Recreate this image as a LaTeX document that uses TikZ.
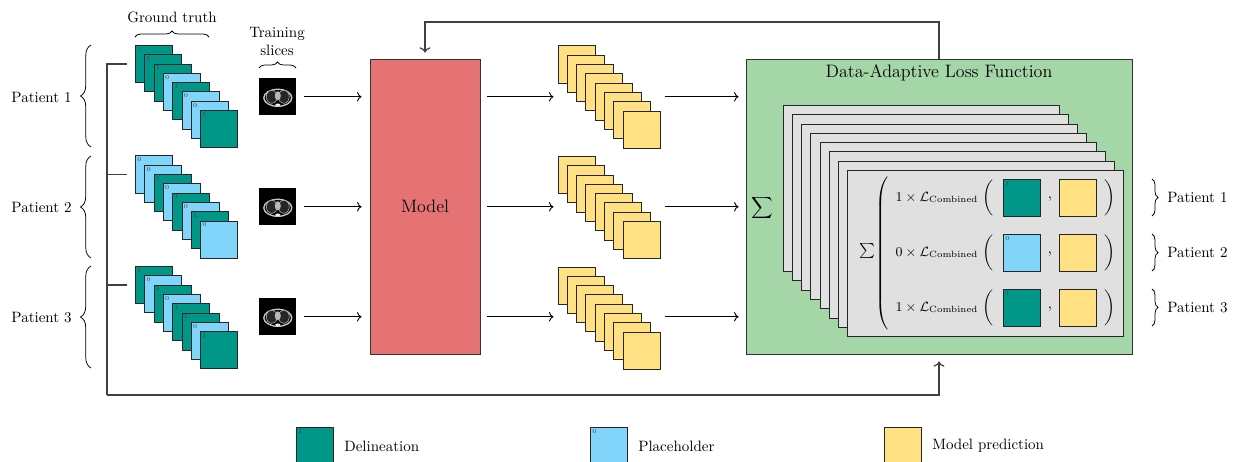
\documentclass[tikz,border=0pt]{standalone}
\usetikzlibrary{decorations.pathreplacing,arrows.meta,calc}
\definecolor{teal1}{HTML}{009688}
\definecolor{blue1}{HTML}{81D4FA}
\definecolor{yel1}{HTML}{FFE082}
\definecolor{red1}{HTML}{E57373}
\definecolor{green1}{HTML}{A5D6A7}
\definecolor{gray1}{HTML}{E0E0E0}
\begin{document}
\begin{tikzpicture}[x=0.66667pt,y=-0.66667pt,
  sq/.style={draw=black!85,line width=0.6pt,inner sep=0pt,minimum size=24.67pt,anchor=north west},
  lab/.style={font=\fontsize{4}{4}\selectfont,anchor=north west,inner sep=1.3pt,text=black!75},
  s1/.style={sq,fill=teal1,label={[lab]north west:1}},
  s0/.style={sq,fill=blue1,label={[lab]north west:0}},
  sp/.style={sq,fill=yel1},
  sheet/.style={draw=black!85,line width=0.6pt,fill=gray1,inner sep=0pt,minimum width=184pt,minimum height=110.67pt,anchor=north west},
  ctbox/.style={fill=black,inner sep=0pt,minimum size=24.67pt,anchor=north west},
  arr/.style={line width=0.6pt,-{To[length=3pt]}},
  fb/.style={line width=0.8pt,draw=black!75},
  brc/.style={decorate,decoration={brace,amplitude=#1},line width=0.5pt},
  brc/.default=5pt
]
\useasboundingbox (0,0) rectangle (1234,462);
\clip (0,0) rectangle (1234,462);

% ground truth stacks
\foreach \v [count=\i from 0] in {1,1,1,0,1,0,0,1}
  \node[s\v] (g1-\i) at ({135+9.3*\i},{45+9.3*\i}) {};
\foreach \v [count=\i from 0] in {0,0,1,0,1,0,1,0}
  \node[s\v] (g2-\i) at ({135+9.3*\i},{155.5+9.3*\i}) {};
\foreach \v [count=\i from 0] in {1,0,1,0,1,1,0,1}
  \node[s\v] (g3-\i) at ({135+9.3*\i},{266+9.3*\i}) {};

% patient braces and labels (left)
\draw[brc=7pt] (91,147) -- (91,45);
\draw[brc=7pt] (91,258) -- (91,156);
\draw[brc=7pt] (91,368) -- (91,266);
\node[anchor=east] (pl1) at (77,97) {Patient 1};
\node[anchor=east] (pl2) at (77,207) {Patient 2};
\node[anchor=east] (pl3) at (77,318) {Patient 3};

% top labels
\draw[brc=4pt] (135,37) -- (209,37);
\node (gt) at (172,17) {Ground truth};
\draw[brc=4pt] (259,68) -- (296,68);
\node[align=center] (ts) at (277,42) {Training\\slices};

% CT slices
\foreach \p/\yy in {1/78,2/188,3/298} {
  \node[ctbox] (ct\p) at (259,\yy) {};
  \begin{scope}[shift={(ct\p.center)}]
    \draw[gray!45,line width=0.9pt] (0,1) ellipse [x radius=14, y radius=8.5];
    \fill[black!85] (-6,0) ellipse [x radius=5.5, y radius=6.5];
    \fill[black!85] (6,0) ellipse [x radius=5.5, y radius=6.5];
    \draw[gray!50,line width=0.35pt] (-6,0) ellipse [x radius=5.5, y radius=6.5];
    \draw[gray!50,line width=0.35pt] (6,0) ellipse [x radius=5.5, y radius=6.5];
    \fill[gray!55] (0,-1) ellipse [x radius=3, y radius=4.5];
    \fill[gray!10] (0,8) ellipse [x radius=2.5, y radius=1.3];
  \end{scope}
}

% model
\node[draw=black!80,fill=red1,line width=0.6pt,minimum width=73.33pt,minimum height=196.67pt,inner sep=0pt,font=\large] (model) at (425,206.5) {Model};

% prediction stacks
\foreach \p/\yy in {1/45.5,2/156,3/266.5}
  \foreach \i in {0,...,7}
    \node[sp] (p\p-\i) at ({557.5+9.3*\i},{\yy+9.3*\i}) {};

% loss box
\node[draw=black!80,fill=green1,line width=0.6pt,minimum width=257.33pt,minimum height=196.67pt,inner sep=0pt] (loss) at (939,206.5) {};
\node[font=\large] (title) at (939,73) {Data-Adaptive Loss Function};
\node (bigsum) at (762,208) {$\displaystyle\sum$};
\foreach \i in {0,...,7}
  \node[sheet] (sh\i) at ({783+9.15*\i},{105+9.3*\i}) {};
\node (insum) at (867,251) {$\sum$};
\node[inner sep=0pt] (bigp) at (883,253) {$\left(\rule[-49pt]{0pt}{103pt}\right.$};

\foreach \r/\yy/\v in {1/179/1,2/234/0,3/289/1} {
  \node[font=\small] (lt\r) at (937,{\yy+18.5}) {$\v\times\mathcal{L}_{\mathrm{Combined}}$};
  \node[inner sep=0pt] (lp\r) at (989,{\yy+18.5}) {$\left(\rule[-10pt]{0pt}{25pt}\right.$};
  \node[s\v] (lg\r) at (1003,\yy) {};
  \node[inner sep=0pt] (cm\r) at (1050,{\yy+20}) {,};
  \node[sp] (lpr\r) at (1059,\yy) {};
  \node[inner sep=0pt] (rp\r) at (1109,{\yy+18.5}) {$\left.\rule[-10pt]{0pt}{25pt}\right)$};
  \draw[brc=4pt] (1152,\yy) -- (1152,{\yy+37});
  \node[anchor=west] (rl\r) at (1162,{\yy+18.5}) {Patient \r};
}

% connectors
\foreach \p in {1,2,3} {
  \draw[arr] ($(ct\p.east)+(7,0)$) -- ($(ct\p.east -| model.west)+(-8,0)$);
  \draw[arr] ($(ct\p.east -| model.east)+(7,0)$) -- ($(ct\p.east -| p\p-0.west)+(-4,0)$);
  \draw[arr] ($(ct\p.east -| p\p-7.east)+(4,0)$) -- ($(ct\p.east -| loss.west)+(-7,0)$);
}

% feedback loops
\coordinate (topc) at (939,22);
\draw[fb,-{To[length=3.5pt]}] (loss.north) |- (topc -| model.north) -- ($(model.north)+(0,-6)$);
\coordinate (botc) at (107,395);
\draw[fb] ($(g1-0.west)+(-8,0)$) -| (botc);
\draw[fb,-{To[length=3.5pt]}] (botc) -| ($(loss.south)+(0,7)$);
\draw[fb] ($(g2-0.west)+(-8,0)$) -- (g2-0.west -| botc);
\draw[fb] ($(g3-0.west)+(-8,0)$) -- (g3-0.west -| botc);

% legend
\node[s1] (leg1) at (296,427) {};
\node[anchor=west] (legt1) at (339,446) {Delineation};
\node[s0] (leg2) at (590,427) {};
\node[anchor=west] (legt2) at (633,446) {Placeholder};
\node[sp] (leg3) at (884,427) {};
\node[anchor=west] (legt3) at (927,446) {Model prediction};
\end{tikzpicture}
\end{document}
